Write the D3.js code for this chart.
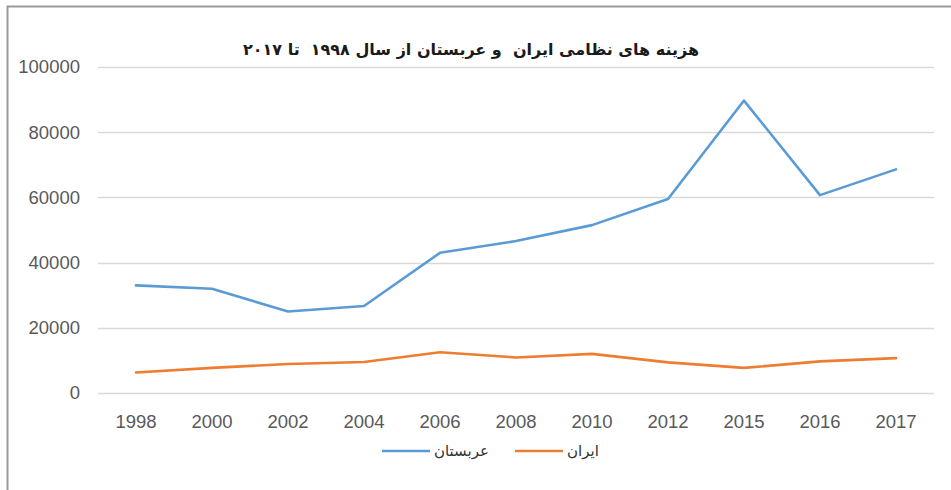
<!DOCTYPE html>
<html>
<head>
<meta charset="utf-8">
<script src="https://cdn.jsdelivr.net/npm/d3@7"></script>
<style>
  body { margin: 0; background: #fff; }
  svg { display: block; }
</style>
</head>
<body>
<svg id="chart"></svg>
<script>
let years = ['1998', '2000', '2002', '2004', '2006', '2008', '2010', '2012', '2015', '2016', '2017']
let saudi = [33000, 32000, 25000, 26700, 43000, 46600, 51500, 59500, 89700, 60700, 68600]
let iran = [6300, 7700, 8900, 9500, 12500, 10900, 12000, 9400, 7700, 9700, 10700]
let yTicks = [0, 20000, 40000, 60000, 80000, 100000]
let seriesNames = ['عربستان', 'ایران']
let seriesColors = ['#5B9BD5', '#ED7D31']
let title = 'هزینه های نظامی ایران  و عربستان از سال ۱۹۹۸  تا ۲۰۱۷'

let width = 951
let height = 490
let margin = { top: 67, right: 17, bottom: 97, left: 98 }
let plotW = width - margin.left - margin.right
let plotH = height - margin.top - margin.bottom

let svg = d3.select('#chart')
  .attr('width', width)
  .attr('height', height)

// outer frame (only top and left edge are visible in the screenshot)
svg.append('path')
  .attr('d', 'M7.5,490 L7.5,6.5 L951,6.5')
  .attr('fill', 'none')
  .attr('stroke', '#9a9a9a')
  .attr('stroke-width', 2)

svg.append('text')
  .attr('x', 471)
  .attr('y', 55)
  .attr('text-anchor', 'middle')
  .attr('direction', 'rtl')
  .style('white-space', 'pre')
  .style('font-family', 'DejaVu Sans, sans-serif')
  .style('font-weight', 'bold')
  .style('font-size', '16px')
  .attr('fill', '#1a1a1a')
  .text(title)

let g = svg.append('g')
  .attr('transform', 'translate(' + margin.left + ',' + margin.top + ')')

let x = d3.scaleBand()
  .domain(years)
  .range([0, plotW])

let y = d3.scaleLinear()
  .domain([0, 100000])
  .range([plotH, 0])

// gridlines
g.append('g')
  .selectAll('line')
  .data(yTicks)
  .join('line')
  .attr('x1', 0)
  .attr('x2', plotW)
  .attr('y1', d => Math.round(y(d)) + 0.5)
  .attr('y2', d => Math.round(y(d)) + 0.5)
  .attr('stroke', '#d9d9d9')
  .attr('stroke-width', 1.5)

let yAxis = d3.axisLeft(y).tickValues(yTicks).tickSize(0).tickPadding(18)
  .tickFormat(d3.format('d'))
let xAxis = d3.axisBottom(x).tickSize(0).tickPadding(22)

let yg = g.append('g').attr('class', 'y axis').call(yAxis)
let xg = g.append('g').attr('class', 'x axis')
  .attr('transform', 'translate(0,' + plotH + ')')
  .call(xAxis)

;[yg, xg].forEach(a => {
  a.select('.domain').remove()
  a.selectAll('text')
    .style('font-family', 'Liberation Sans, Arial, sans-serif')
    .style('font-size', '18.5px')
    .attr('fill', '#595959')
})

let line = d3.line()
  .x((d, i) => x(years[i]) + x.bandwidth() / 2)
  .y(d => y(d))

;[saudi, iran].forEach((s, i) => {
  g.append('path')
    .datum(s)
    .attr('d', line)
    .attr('fill', 'none')
    .attr('stroke', seriesColors[i])
    .attr('stroke-width', 2.6)
    .attr('stroke-linejoin', 'round')
    .attr('stroke-linecap', 'round')
})

// legend
let legendItems = [
  { x: 382, name: seriesNames[0], color: seriesColors[0] },
  { x: 515, name: seriesNames[1], color: seriesColors[1] }
]
let lg = svg.append('g').attr('transform', 'translate(0,451)')
legendItems.forEach(it => {
  lg.append('line')
    .attr('x1', it.x).attr('x2', it.x + 48)
    .attr('y1', 0).attr('y2', 0)
    .attr('stroke', it.color)
    .attr('stroke-width', 2.6)
  lg.append('text')
    .attr('x', it.x + 52)
    .attr('y', 5)
    .attr('text-anchor', 'start')
    .style('font-family', 'DejaVu Sans, sans-serif')
    .style('font-size', '15px')
    .attr('fill', '#333')
    .text(it.name)
})
</script>
</body>
</html>
